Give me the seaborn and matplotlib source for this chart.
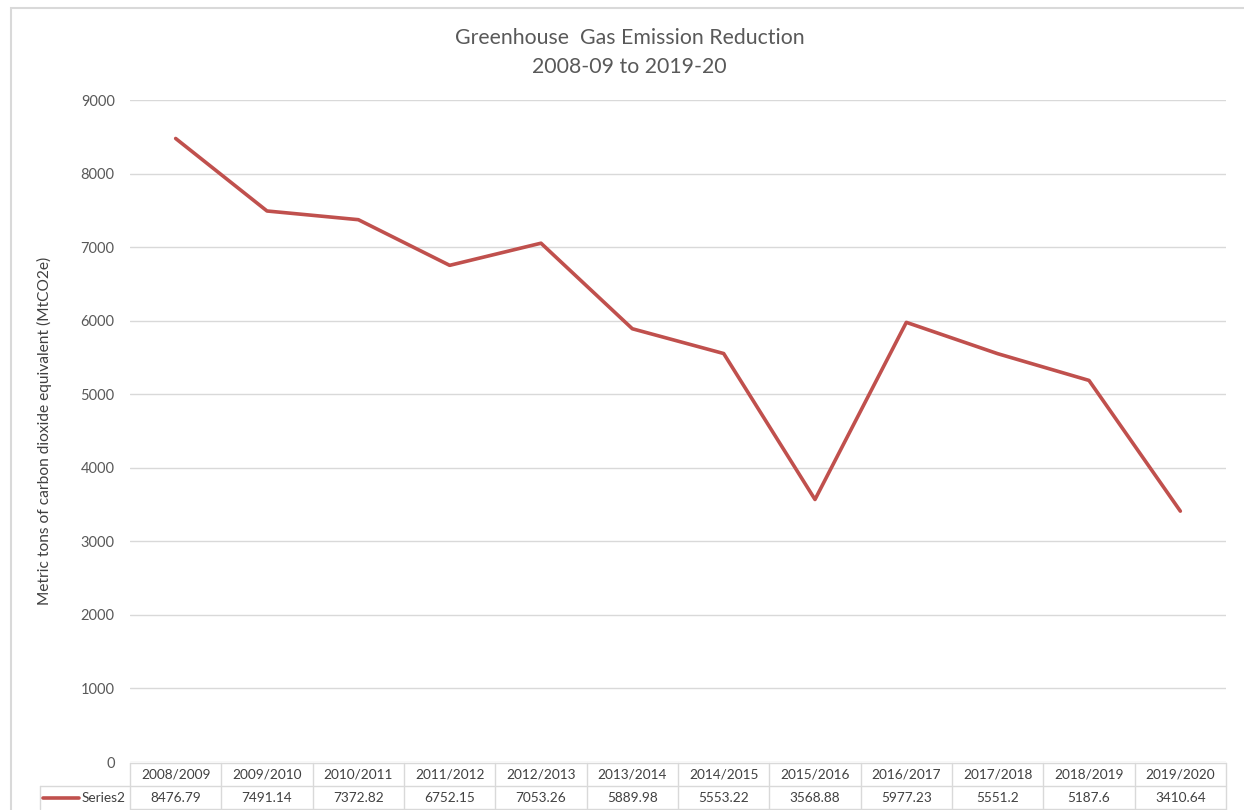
import pandas as pd
import seaborn as sns
from matplotlib import pyplot as plt
from matplotlib.lines import Line2D
from matplotlib.patches import Rectangle

years = ['2008/2009', '2009/2010', '2010/2011', '2011/2012', '2012/2013', '2013/2014',
         '2014/2015', '2015/2016', '2016/2017', '2017/2018', '2018/2019', '2019/2020']
emissions = [8476.79, 7491.14, 7372.82, 6752.15, 7053.26, 5889.98,
             5553.22, 3568.88, 5977.23, 5551.2, 5187.6, 3410.64]
value_labels = ['8476.79', '7491.14', '7372.82', '6752.15', '7053.26', '5889.98',
                '5553.22', '3568.88', '5977.23', '5551.2', '5187.6', '3410.64']

sns.set_style('white')
plt.rcParams['font.family'] = ['Lato', 'DejaVu Sans']

grey_text = '#595959'
grid_col = '#d9d9d9'
red = '#c0504d'

data = pd.DataFrame({'pos': range(len(years)), 'year': years, 'value': emissions})

fig = plt.figure(figsize=(12.44, 8.10), dpi=100)
ax = fig.add_axes([130 / 1244, 1 - 762 / 810, 1096 / 1244, 662 / 810])

sns.lineplot(x='pos', y='value', data=data, ax=ax, color=red, linewidth=2.6)

ax.set_xlim(-0.5, len(years) - 0.5)
ax.set_ylim(0, 9000)
ax.set_yticks(range(0, 9001, 1000))
ax.set_xticks([])
ax.grid(axis='y', color=grid_col, linewidth=1)
ax.set_axisbelow(True)
for s in ax.spines.values():
    s.set_visible(False)
ax.tick_params(axis='y', length=0, pad=11, labelsize=10.5, labelcolor=grey_text)
ax.set_xlabel('')
ax.set_ylabel('Metric tons of carbon dioxide equivalent (MtCO2e)', fontsize=11.2, color='#404040')
ax.yaxis.set_label_coords(-0.071, 0.5)

# data table under the axis
tr = ax.get_xaxis_transform()
px = 1 / 662
y_top, y_mid, y_bot = -1 * px, -24 * px, -47 * px
n = len(years)
fs = 9.8
lkw = dict(transform=tr, color=grid_col, linewidth=1, clip_on=False)
ax.add_line(Line2D([-0.5, n - 0.5], [y_top, y_top], **lkw))
ax.add_line(Line2D([-0.5, n - 0.5], [y_bot, y_bot], **lkw))
ax.add_line(Line2D([-1.485, n - 0.5], [y_mid, y_mid], **lkw))
ax.add_line(Line2D([-1.485, -1.485], [y_mid, y_bot], **lkw))
for i in range(n + 1):
    ax.add_line(Line2D([i - 0.5, i - 0.5], [y_top, y_bot], **lkw))
for i, (yr, v) in enumerate(zip(years, value_labels)):
    ax.text(i, (y_top + y_mid) / 2, yr, transform=tr, ha='center', va='center',
            fontsize=fs, color='#404040', clip_on=False)
    ax.text(i, (y_mid + y_bot) / 2, v, transform=tr, ha='center', va='center',
            fontsize=fs, color='#404040', clip_on=False)
ax.add_line(Line2D([-1.45, -1.06], [(y_mid + y_bot) / 2] * 2, transform=tr,
                   color=red, linewidth=2.6, clip_on=False))
ax.text(-0.545, (y_mid + y_bot) / 2, 'Series2', transform=tr, ha='right', va='center',
        fontsize=fs, color='#404040', clip_on=False)

fig.text(0.506, 1 - 38 / 810, 'Greenhouse  Gas Emission Reduction', ha='center', va='center',
         fontsize=15.3, color=grey_text)
fig.text(0.506, 1 - 67 / 810, '2008-09 to 2019-20', ha='center', va='center',
         fontsize=15.3, color=grey_text)

fig.add_artist(Rectangle((11 / 1244, -0.05), 1.1, 1.05 + (1 - 8 / 810) - 1,
                         transform=fig.transFigure, fill=False, edgecolor=grid_col, linewidth=1.5))

plt.savefig('out.png', dpi=100)
